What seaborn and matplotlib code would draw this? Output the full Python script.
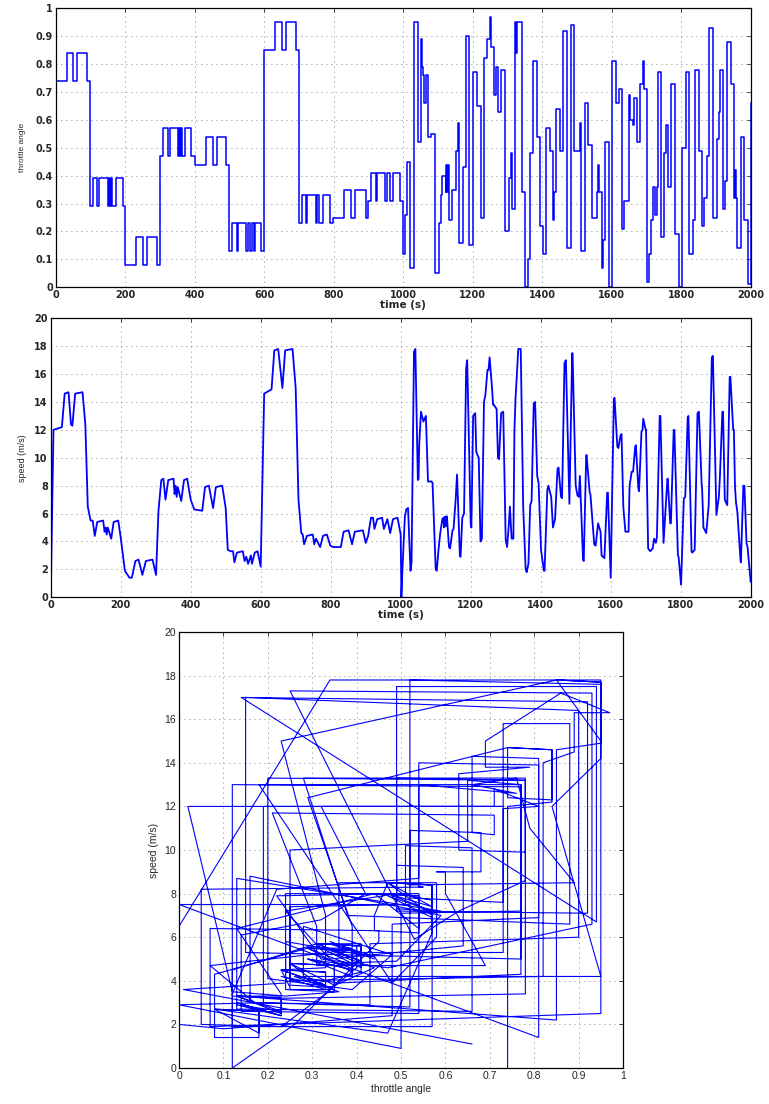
import matplotlib
matplotlib.use("Agg")
import matplotlib.pyplot as plt
import seaborn as sns
import numpy as np
import pandas as pd

sns.set_style("white")
plt.rcParams['font.family'] = ['DejaVu Sans']

# sampled time (s), throttle level from that instant, speed (m/s) at that instant
time_s = [
    0, 8, 32, 40, 51, 58, 62, 70, 91, 99,
    106, 114, 120, 126, 133, 150, 154, 157, 160, 163, 173, 180, 193, 200,
    212, 225, 232, 242, 251, 262, 272, 291, 301,
    308, 316, 322, 328, 336, 351, 354, 357, 360, 363, 373, 381, 390, 400,
    410, 433, 441, 452, 464, 472, 490, 500,
    506, 514, 521, 525, 532, 549, 554, 559, 564, 572, 575, 583, 591, 600,
    610, 631, 639, 650, 662, 670, 691, 700,
    708, 716, 720, 724, 732, 749, 753, 758, 770, 778, 789, 799,
    808, 829, 837, 851, 861, 869, 892, 900,
    907, 915, 921, 925, 933, 947, 952, 962, 970, 978, 991, 1000,
    1002, 1005, 1012, 1016, 1021, 1028, 1031, 1038, 1042, 1049, 1051, 1053, 1058, 1061, 1065, 1072, 1078, 1079, 1088, 1091, 1100,
    1103, 1108, 1113, 1119, 1122, 1124, 1127, 1129, 1132, 1138, 1141, 1148, 1151, 1157, 1161, 1169, 1171, 1176, 1181, 1187, 1190, 1200,
    1202, 1207, 1213, 1216, 1223, 1228, 1232, 1238, 1242, 1248, 1251, 1254, 1261, 1264, 1266, 1274, 1278, 1281, 1287, 1293, 1300,
    1304, 1309, 1312, 1317, 1322, 1325, 1328, 1336, 1343, 1350, 1357, 1360, 1365, 1370, 1374, 1380, 1384, 1390, 1394,
    1401, 1409, 1411, 1419, 1422, 1430, 1435, 1441, 1448, 1451, 1458, 1461, 1468, 1472, 1482, 1490, 1491, 1500,
    1505, 1509, 1512, 1521, 1523, 1530, 1531, 1540, 1542, 1553, 1557, 1561, 1564, 1571, 1574, 1582, 1590, 1592, 1600,
    1609, 1611, 1619, 1622, 1628, 1631, 1636, 1642, 1651, 1654, 1660, 1662, 1664, 1670, 1672, 1679, 1681, 1688, 1691, 1693, 1700,
    1701, 1707, 1713, 1720, 1724, 1729, 1732, 1740, 1742, 1751, 1756, 1762, 1763, 1770, 1772, 1780, 1782, 1792, 1794,
    1801, 1809, 1813, 1820, 1822, 1831, 1833, 1840, 1848, 1852, 1860, 1861, 1865, 1873, 1880, 1889, 1892,
    1902, 1909, 1912, 1919, 1921, 1926, 1933, 1940, 1942, 1950, 1952, 1955, 1958, 1962, 1971, 1972, 1979, 1982, 1988, 1991, 2000,
]

throttle = [
    0.74, 0.74, 0.84, 0.84, 0.74, 0.74, 0.84, 0.84, 0.74, 0.29,
    0.39, 0.39, 0.29, 0.39, 0.39, 0.29, 0.39, 0.29, 0.39, 0.29, 0.39, 0.39, 0.29, 0.08,
    0.08, 0.08, 0.18, 0.18, 0.08, 0.18, 0.18, 0.08, 0.47,
    0.57, 0.57, 0.47, 0.57, 0.57, 0.47, 0.57, 0.47, 0.57, 0.47, 0.57, 0.57, 0.47, 0.44,
    0.44, 0.54, 0.54, 0.44, 0.54, 0.54, 0.44, 0.13,
    0.23, 0.23, 0.13, 0.23, 0.23, 0.13, 0.23, 0.13, 0.23, 0.13, 0.23, 0.23, 0.13, 0.85,
    0.85, 0.95, 0.95, 0.85, 0.95, 0.95, 0.85, 0.23,
    0.33, 0.33, 0.23, 0.33, 0.33, 0.23, 0.33, 0.23, 0.33, 0.33, 0.23, 0.25,
    0.25, 0.35, 0.35, 0.25, 0.35, 0.35, 0.25, 0.31,
    0.41, 0.41, 0.31, 0.41, 0.41, 0.31, 0.41, 0.31, 0.41, 0.41, 0.31, 0.12,
    0.12, 0.26, 0.45, 0.45, 0.07, 0.07, 0.95, 0.95, 0.52, 0.52, 0.89, 0.79, 0.76, 0.66, 0.76, 0.54, 0.54, 0.55, 0.55, 0.05, 0.05,
    0.23, 0.33, 0.40, 0.40, 0.34, 0.44, 0.34, 0.44, 0.24, 0.24, 0.35, 0.35, 0.49, 0.59, 0.16, 0.16, 0.43, 0.43, 0.90, 0.90, 0.15, 0.15,
    0.77, 0.77, 0.65, 0.65, 0.25, 0.25, 0.82, 0.82, 0.89, 0.89, 0.97, 0.86, 0.69, 0.69, 0.79, 0.63, 0.63, 0.78, 0.78, 0.20, 0.20,
    0.39, 0.48, 0.28, 0.28, 0.95, 0.84, 0.95, 0.95, 0.34, 0.00, 0.00, 0.10, 0.48, 0.48, 0.81, 0.81, 0.54, 0.54, 0.22,
    0.12, 0.12, 0.57, 0.57, 0.49, 0.24, 0.34, 0.64, 0.64, 0.49, 0.49, 0.92, 0.92, 0.14, 0.94, 0.94, 0.49, 0.49,
    0.49, 0.59, 0.13, 0.13, 0.66, 0.66, 0.51, 0.51, 0.25, 0.25, 0.34, 0.44, 0.34, 0.07, 0.17, 0.52, 0.52, 0.00, 0.81,
    0.81, 0.66, 0.66, 0.71, 0.71, 0.21, 0.31, 0.31, 0.69, 0.60, 0.60, 0.58, 0.68, 0.68, 0.52, 0.52, 0.73, 0.73, 0.81, 0.71, 0.71,
    0.02, 0.12, 0.24, 0.36, 0.26, 0.36, 0.77, 0.77, 0.18, 0.48, 0.58, 0.58, 0.36, 0.36, 0.73, 0.73, 0.19, 0.19, 0.00,
    0.50, 0.50, 0.77, 0.77, 0.12, 0.12, 0.24, 0.78, 0.78, 0.49, 0.49, 0.22, 0.32, 0.47, 0.93, 0.93, 0.25,
    0.53, 0.63, 0.78, 0.78, 0.28, 0.38, 0.88, 0.88, 0.73, 0.73, 0.32, 0.42, 0.32, 0.14, 0.14, 0.54, 0.54, 0.24, 0.24, 0.01, 0.66,
]

speed = [
    0.0, 12.0, 12.2, 14.6, 14.7, 12.4, 12.3, 14.6, 14.7, 12.4,
    6.5, 5.5, 5.5, 4.4, 5.4, 5.5, 4.7, 5.0, 4.5, 5.0, 4.2, 5.4, 5.5, 4.3,
    1.9, 1.4, 1.4, 2.6, 2.7, 1.6, 2.6, 2.7, 1.6,
    6.2, 8.4, 8.5, 7.0, 8.4, 8.5, 7.4, 8.0, 7.2, 7.9, 6.9, 8.4, 8.5, 7.0,
    6.3, 6.2, 7.9, 8.0, 6.4, 7.9, 8.0, 6.4,
    3.4, 3.3, 3.3, 2.5, 3.2, 3.3, 2.6, 2.9, 2.4, 3.0, 2.4, 3.2, 3.3, 2.2,
    14.6, 14.9, 17.7, 17.8, 15.0, 17.7, 17.8, 15.0,
    7.0, 4.6, 4.5, 3.8, 4.4, 4.5, 3.8, 4.2, 3.6, 4.4, 4.5, 3.7,
    3.6, 3.6, 4.7, 4.8, 3.8, 4.7, 4.8, 3.9,
    4.4, 5.7, 5.7, 4.9, 5.6, 5.7, 4.9, 5.6, 4.6, 5.6, 5.7, 4.5,
    0.0, 2.0, 5.8, 6.3, 6.4, 1.9, 2.5, 17.6, 17.8, 8.4, 8.5, 11.0, 13.3, 13.0, 12.6, 13.0, 8.3, 8.3, 8.3, 8.2, 2.0,
    1.9, 3.4, 4.6, 5.6, 5.7, 5.0, 5.8, 5.1, 5.8, 3.6, 3.5, 4.8, 4.9, 7.0, 8.8, 3.0, 2.9, 5.7, 6.0, 16.4, 17.0, 5.3,
    5.0, 13.0, 13.2, 10.4, 10.0, 4.0, 4.2, 14.0, 14.5, 16.3, 16.3, 17.2, 15.0, 13.8, 13.8, 13.5, 10.0, 9.9, 13.2, 13.3, 4.1,
    3.6, 5.2, 6.5, 4.2, 4.2, 12.0, 14.2, 17.8, 17.8, 6.5, 2.0, 1.8, 2.4, 6.6, 6.9, 13.9, 14.0, 8.7, 8.2,
    3.4, 1.9, 1.9, 7.7, 8.0, 7.2, 5.0, 5.6, 9.2, 9.3, 7.2, 7.1, 16.8, 17.0, 6.7, 17.5, 17.5, 8.0,
    7.3, 7.2, 8.7, 2.7, 2.6, 10.1, 10.2, 7.5, 7.4, 3.8, 3.7, 4.6, 5.3, 4.7, 3.0, 2.8, 7.5, 7.5, 1.4,
    14.2, 14.3, 10.8, 10.7, 11.6, 11.7, 6.5, 4.7, 4.7, 8.0, 9.0, 9.0, 9.0, 10.8, 10.9, 7.8, 7.6, 11.9, 12.0, 12.8, 12.0,
    12.0, 3.5, 3.3, 3.5, 4.2, 3.9, 4.3, 13.0, 13.0, 3.9, 6.0, 8.5, 8.5, 5.3, 5.3, 12.0, 12.0, 3.0, 2.9,
    0.9, 7.1, 7.2, 12.9, 13.0, 3.3, 3.2, 3.4, 13.2, 13.3, 8.0, 7.9, 5.0, 4.6, 6.6, 17.2, 17.3,
    5.9, 7.2, 8.6, 13.3, 13.3, 7.0, 6.6, 15.8, 15.8, 12.0, 12.0, 8.0, 6.8, 6.1, 2.6, 2.5, 8.0, 8.0, 3.9, 3.6, 1.1,
]

time_ticks = list(range(0, 2001, 200))
throttle_ticks = [0, 0.1, 0.2, 0.3, 0.4, 0.5, 0.6, 0.7, 0.8, 0.9, 1]
speed_ticks = list(range(0, 21, 2))

df = pd.DataFrame({"time": time_s, "throttle": throttle, "speed": speed})

fig = plt.figure(figsize=(7.69, 11.04), dpi=100)
ax1 = fig.add_axes([0.0724, 0.7398, 0.9038, 0.2527])
ax2 = fig.add_axes([0.0659, 0.4590, 0.9103, 0.2527])
ax3 = fig.add_axes([0.2328, 0.0326, 0.5774, 0.3949])

sns.lineplot(data=df, x="time", y="throttle", ax=ax1, color="blue", lw=1.1,
             drawstyle="steps-post", estimator=None, sort=False)
sns.lineplot(data=df, x="time", y="speed", ax=ax2, color="blue", lw=1.3,
             estimator=None, sort=False)
sns.lineplot(data=df, x="throttle", y="speed", ax=ax3, color="blue", lw=0.8,
             estimator=None, sort=False)


def style(ax, xticks, yticks, xlim, ylim, font, size, weight):
    ax.set_xlim(*xlim)
    ax.set_ylim(*ylim)
    ax.set_xticks(xticks)
    ax.set_yticks(yticks)
    ax.set_xticklabels([f"{v:g}" for v in xticks], fontfamily=font, fontsize=size, fontweight=weight)
    ax.set_yticklabels([f"{v:g}" for v in yticks], fontfamily=font, fontsize=size, fontweight=weight)
    ax.grid(True, color="0.35", linestyle=(0, (1, 5)), lw=0.6)
    ax.tick_params(direction="in", length=3, width=0.6, top=True, right=True, pad=2)
    for sp in ax.spines.values():
        sp.set_color("black")
        sp.set_linewidth(0.9)


style(ax1, time_ticks, throttle_ticks, (0, 2000), (0, 1), "DejaVu Sans", 7, "bold")
style(ax2, time_ticks, speed_ticks, (0, 2000), (0, 20), "DejaVu Sans", 7, "bold")
style(ax3, throttle_ticks, speed_ticks, (0, 1), (0, 20), "Liberation Sans", 7.5, "normal")

ax1.set_xlabel("time (s)", fontsize=7.5, fontweight="bold", labelpad=0)
ax1.set_ylabel("throttle angle", fontfamily="Liberation Sans", fontsize=6, labelpad=7)
ax2.set_xlabel("time (s)", fontsize=7.5, fontweight="bold", labelpad=0)
ax2.set_ylabel("speed (m/s)", fontfamily="Liberation Sans", fontsize=6.5, labelpad=5)
ax3.set_xlabel("throttle angle", fontfamily="Liberation Sans", fontsize=7.5, labelpad=2)
ax3.set_ylabel("speed (m/s)", fontfamily="Liberation Sans", fontsize=7.5, labelpad=4)

fig.savefig("out.png", dpi=100)
